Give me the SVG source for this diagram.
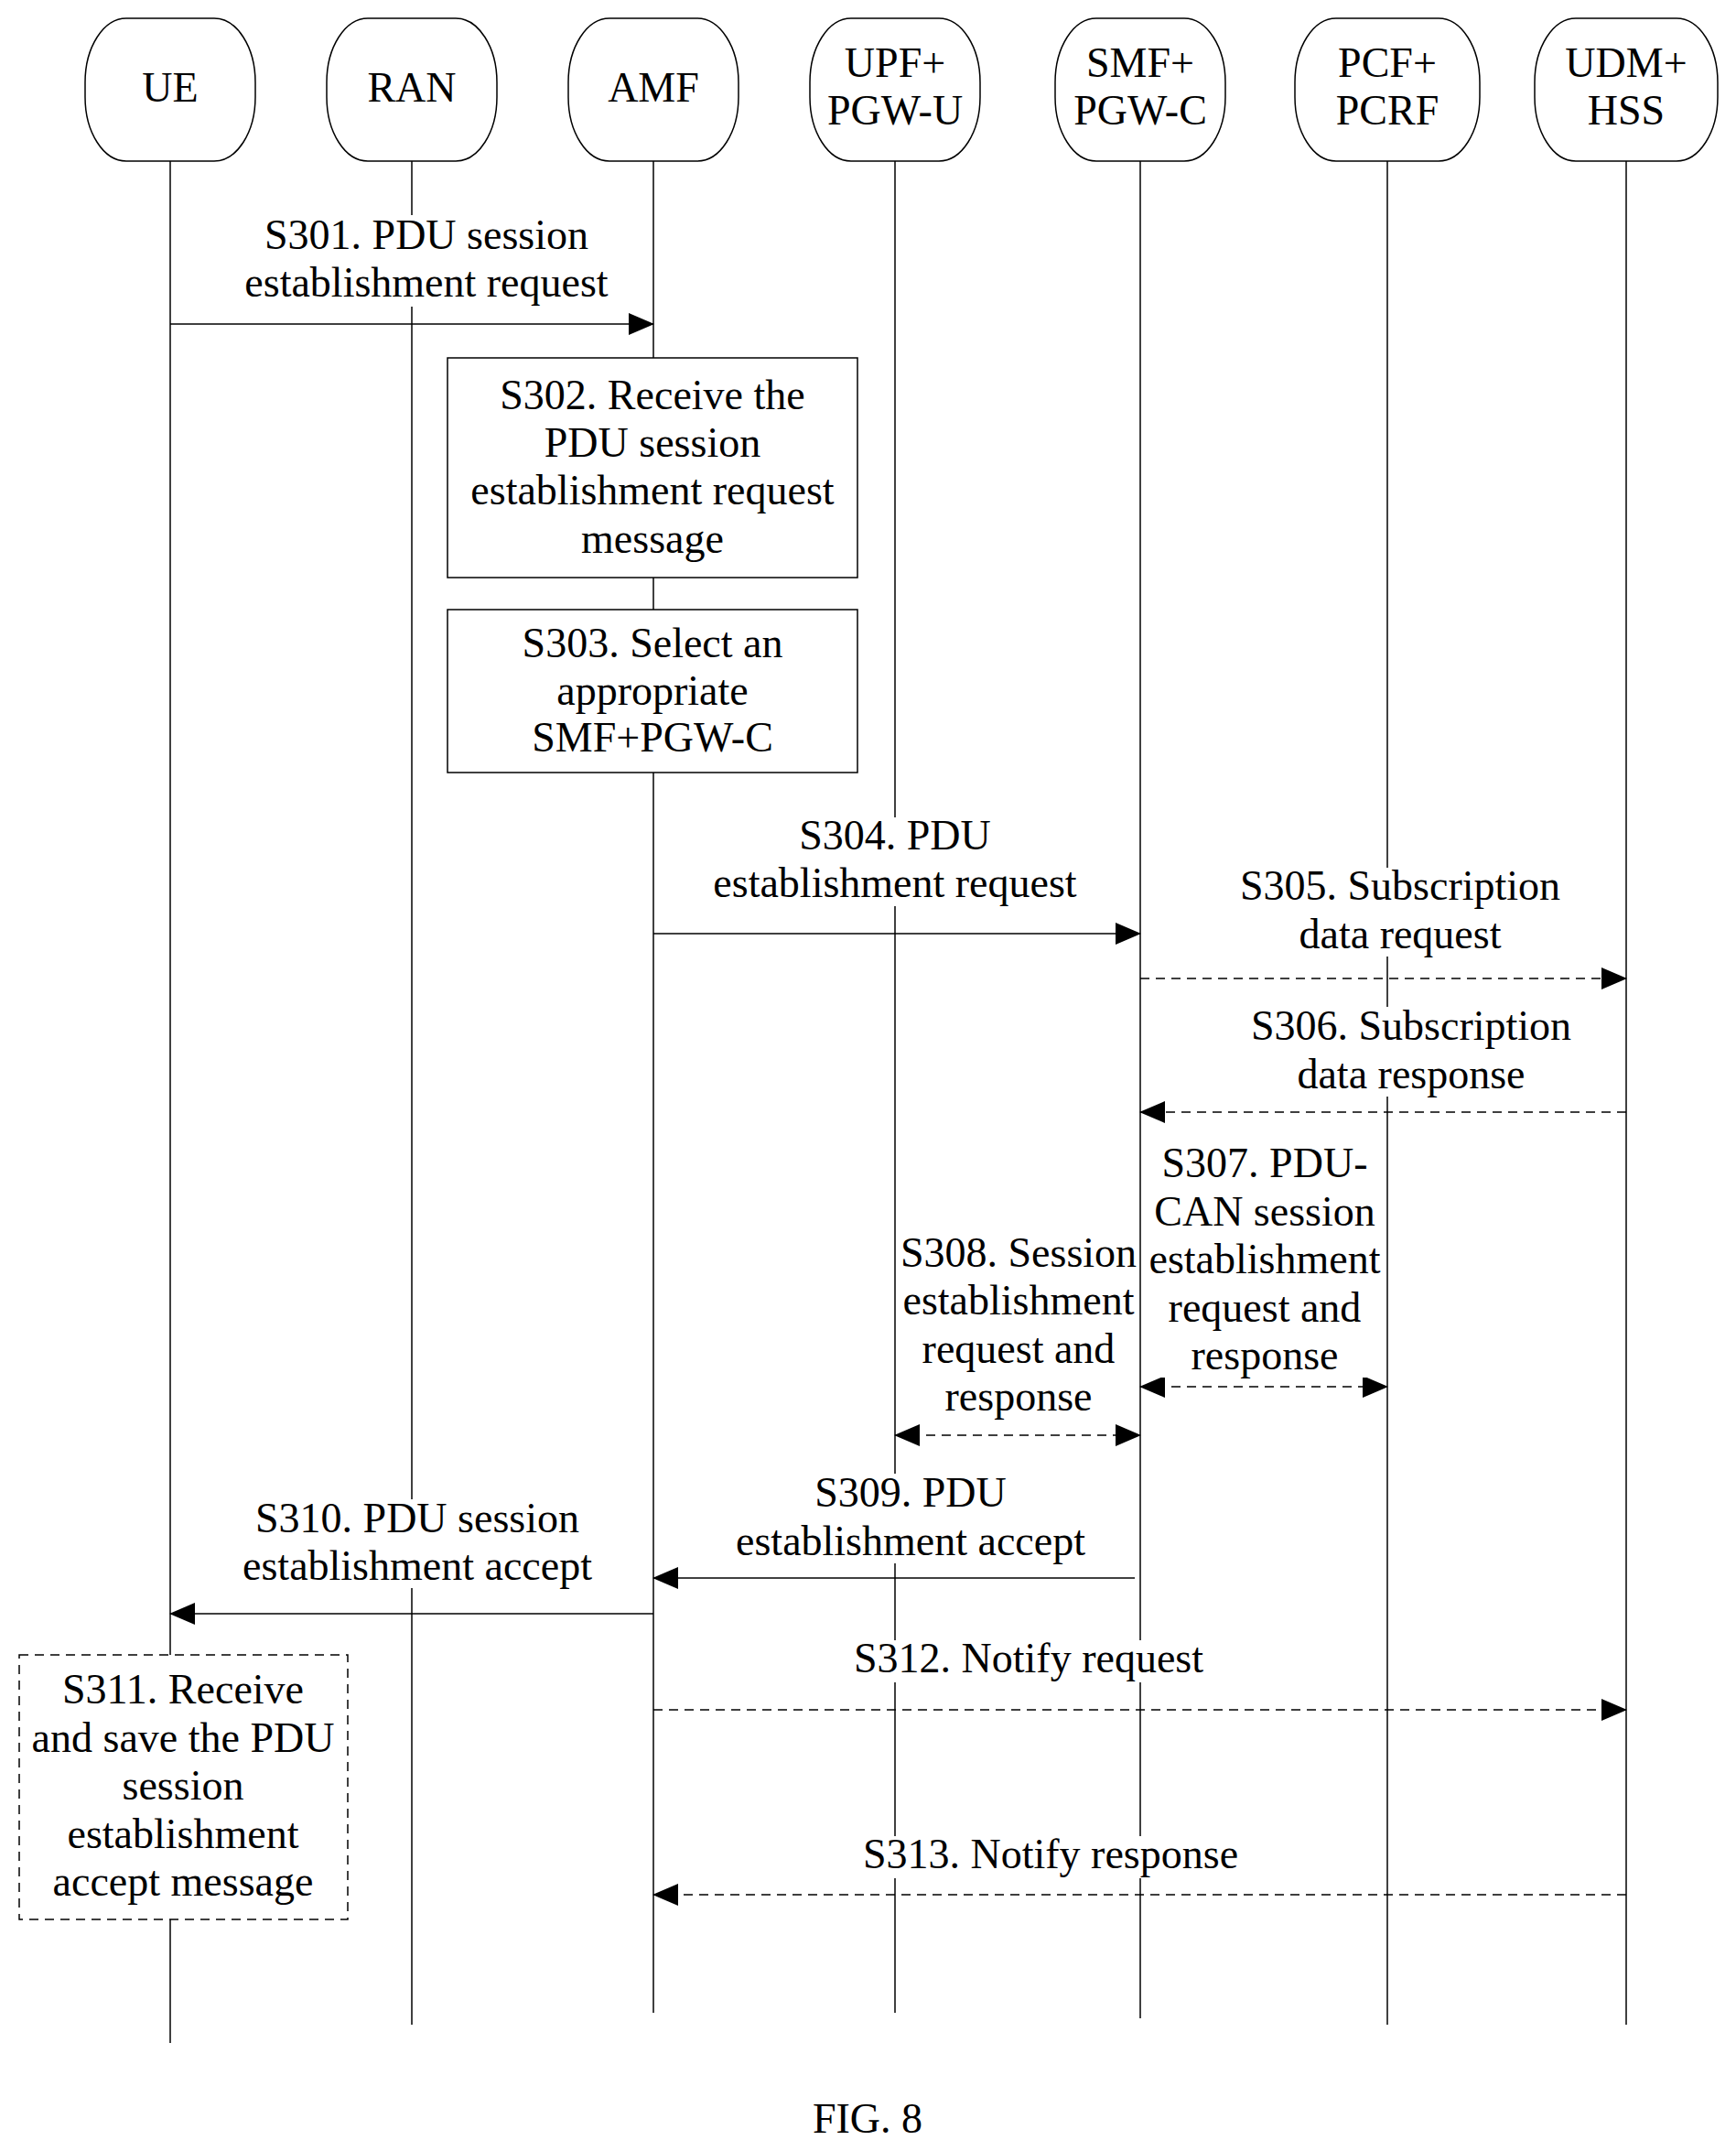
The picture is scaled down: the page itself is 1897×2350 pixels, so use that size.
<svg xmlns="http://www.w3.org/2000/svg" width="1897" height="2350" viewBox="0 0 1897 2350">
<style>
text{font-family:"Liberation Serif","Times New Roman",serif;font-size:46px;text-anchor:middle;fill:#000}
.w{fill:#fff}
.head{fill:#fff;stroke:#000;stroke-width:1.5}
.life{stroke:#000;stroke-width:1.5;fill:none}
.box{fill:#fff;stroke:#000;stroke-width:1.5}
.dbox{fill:#fff;stroke:#000;stroke-width:1.5;stroke-dasharray:10 7}
.m{stroke:#000;stroke-width:1.5;fill:none}
.d{stroke-dasharray:10 7}
</style>
<defs>
<marker id="a" markerWidth="28" markerHeight="24" refX="27" refY="12" orient="auto-start-reverse" markerUnits="userSpaceOnUse"><path d="M0,0 L28,12 L0,24 Z" fill="#000"/></marker>
</defs>
<rect width="1897" height="2350" fill="#fff"/>
<g id="lifelines">
<line class="life" x1="186" y1="176" x2="186" y2="2232"/>
<line class="life" x1="450" y1="176" x2="450" y2="2212"/>
<line class="life" x1="714" y1="176" x2="714" y2="2199"/>
<line class="life" x1="978" y1="176" x2="978" y2="2199"/>
<line class="life" x1="1246" y1="176" x2="1246" y2="2205"/>
<line class="life" x1="1516" y1="176" x2="1516" y2="2212"/>
<line class="life" x1="1777" y1="176" x2="1777" y2="2212"/>
</g>
<g id="UE"><rect class="head" x="93" y="20" width="186" height="156" rx="45" ry="70"/><text x="186" y="111">UE</text></g>
<g id="RAN"><rect class="head" x="357" y="20" width="186" height="156" rx="45" ry="70"/><text x="450" y="111">RAN</text></g>
<g id="AMF"><rect class="head" x="621" y="20" width="186" height="156" rx="45" ry="70"/><text x="714" y="111">AMF</text></g>
<g id="UPF"><rect class="head" x="885" y="20" width="186" height="156" rx="45" ry="70"/><text x="978" y="84">UPF+</text><text x="978" y="136">PGW-U</text></g>
<g id="SMF"><rect class="head" x="1153" y="20" width="186" height="156" rx="45" ry="70"/><text x="1246" y="84">SMF+</text><text x="1246" y="136">PGW-C</text></g>
<g id="PCF"><rect class="head" x="1415" y="20" width="202" height="156" rx="45" ry="70"/><text x="1516" y="84">PCF+</text><text x="1516" y="136">PCRF</text></g>
<g id="UDM"><rect class="head" x="1677" y="20" width="200" height="156" rx="45" ry="70"/><text x="1777" y="84">UDM+</text><text x="1777" y="136">HSS</text></g>
<g id="S302"><rect class="box" x="489" y="391" width="448" height="240"/><text x="713" y="447">S302. Receive the</text><text x="713" y="499">PDU session</text><text x="713" y="551">establishment request</text><text x="713" y="604">message</text></g>
<g id="S303"><rect class="box" x="489" y="666" width="448" height="178"/><text x="713" y="718">S303. Select an</text><text x="713" y="770">appropriate</text><text x="713" y="821">SMF+PGW-C</text></g>
<g id="S311"><rect class="dbox" x="21" y="1808" width="359" height="289"/><text x="200" y="1861">S311. Receive</text><text x="200" y="1914">and save the PDU</text><text x="200" y="1966">session</text><text x="200" y="2019">establishment</text><text x="200" y="2071">accept message</text></g>
<g id="connectors">
<line class="m" x1="186" y1="354" x2="714" y2="354" marker-end="url(#a)"/>
<line class="m" x1="714" y1="1020" x2="1246" y2="1020" marker-end="url(#a)"/>
<line class="m d" x1="1246" y1="1069" x2="1777" y2="1069" marker-end="url(#a)"/>
<line class="m d" x1="1777" y1="1215" x2="1246" y2="1215" marker-end="url(#a)"/>
<line class="m d" x1="1246" y1="1515" x2="1516" y2="1515" marker-start="url(#a)" marker-end="url(#a)"/>
<line class="m d" x1="978" y1="1568" x2="1246" y2="1568" marker-start="url(#a)" marker-end="url(#a)"/>
<line class="m" x1="1240" y1="1724" x2="714" y2="1724" marker-end="url(#a)"/>
<line class="m" x1="714" y1="1763" x2="186" y2="1763" marker-end="url(#a)"/>
<line class="m d" x1="714" y1="1868" x2="1777" y2="1868" marker-end="url(#a)"/>
<line class="m d" x1="1777" y1="2070" x2="714" y2="2070" marker-end="url(#a)"/>
</g>
<g id="labels">
<rect class="w" x="256" y="235" width="420" height="100"/>
<text x="466" y="272">S301. PDU session</text><text x="466" y="324">establishment request</text>
<rect class="w" x="768" y="893" width="420" height="97"/>
<text x="978" y="928">S304. PDU</text><text x="978" y="980">establishment request</text>
<rect class="w" x="1348" y="948" width="364" height="97"/>
<text x="1530" y="983">S305. Subscription</text><text x="1530" y="1036">data request</text>
<rect class="w" x="1360" y="1100" width="364" height="98"/>
<text x="1542" y="1136">S306. Subscription</text><text x="1542" y="1189">data response</text>
<rect class="w" x="1256" y="1250" width="252" height="255"/>
<text x="1382" y="1286">S307. PDU-</text><text x="1382" y="1339">CAN session</text><text x="1382" y="1391">establishment</text><text x="1382" y="1444">request and</text><text x="1382" y="1496">response</text>
<rect class="w" x="988" y="1348" width="250" height="202"/>
<text x="1113" y="1384">S308. Session</text><text x="1113" y="1436">establishment</text><text x="1113" y="1489">request and</text><text x="1113" y="1541">response</text>
<rect class="w" x="795" y="1610" width="400" height="98"/>
<text x="995" y="1646">S309. PDU</text><text x="995" y="1699">establishment accept</text>
<rect class="w" x="256" y="1638" width="400" height="97"/>
<text x="456" y="1674">S310. PDU session</text><text x="456" y="1726">establishment accept</text>
<rect class="w" x="924" y="1792" width="400" height="46"/>
<text x="1124" y="1827">S312. Notify request</text>
<rect class="w" x="938" y="2006" width="420" height="46"/>
<text x="1148" y="2041">S313. Notify response</text>
<text x="948" y="2330">FIG. 8</text>
</g>
</svg>
